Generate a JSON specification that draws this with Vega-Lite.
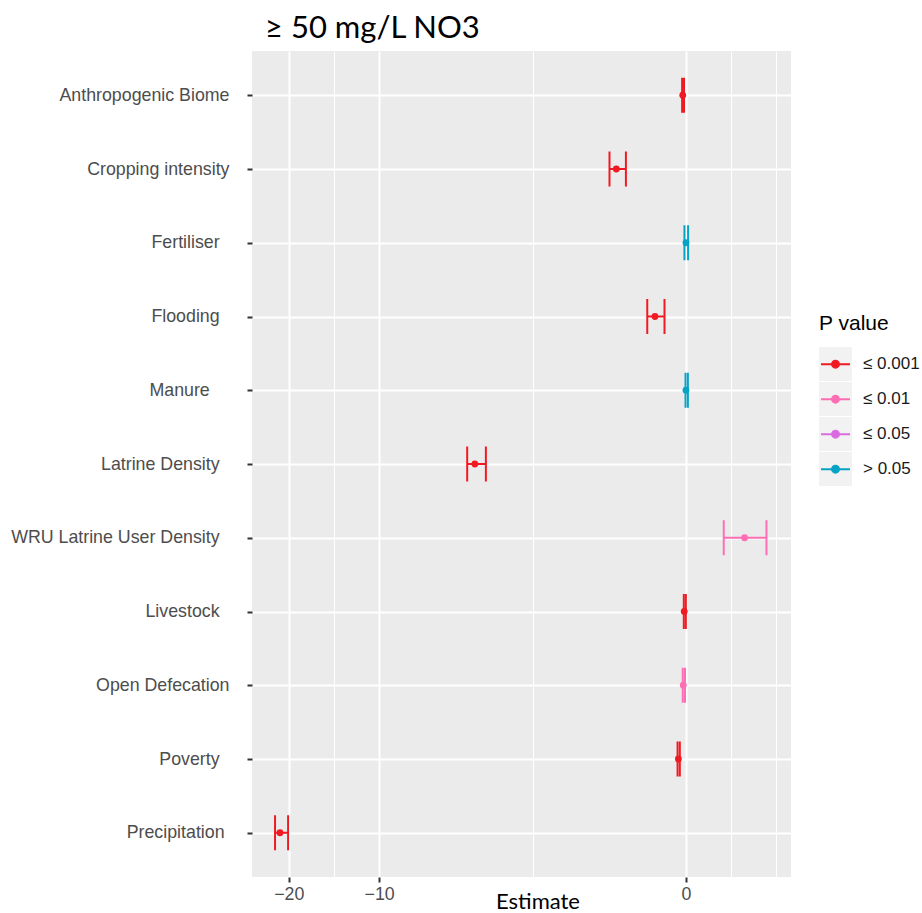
{
  "$schema": "https://vega.github.io/schema/vega-lite/v6.json",
  "width": 539,
  "height": 826,
  "autosize": "none",
  "padding": {"left": 252, "top": 51, "right": 131, "bottom": 36},
  "background": "white",
  "config": {
    "view": {"fill": "#EBEBEB", "stroke": null},
    "font": "Liberation Sans"
  },
  "title": {
    "text": "≥ 50 mg/L NO3",
    "font": "Lato",
    "fontSize": 31,
    "fontWeight": "normal",
    "color": "black",
    "anchor": "start",
    "frame": "group",
    "offset": 14,
    "baseline": "alphabetic",
    "dx": 13,
    "dy": 32
  },
  "data": {
    "values": [
      {"variable": "Anthropogenic Biome", "estimate": -0.03, "lower": -0.036, "upper": -0.018, "p": "≤ 0.001"},
      {"variable": "Cropping intensity", "estimate": -0.83, "lower": -0.935, "upper": -0.69, "p": "≤ 0.001"},
      {"variable": "Fertiliser", "estimate": 0.0, "lower": -0.014, "upper": 0.02, "p": "> 0.05"},
      {"variable": "Flooding", "estimate": -0.32, "lower": -0.411, "upper": -0.214, "p": "≤ 0.001"},
      {"variable": "Manure", "estimate": 0.0, "lower": -0.004, "upper": 0.018, "p": "> 0.05"},
      {"variable": "Latrine Density", "estimate": -4.47, "lower": -4.79, "upper": -4.04, "p": "≤ 0.001"},
      {"variable": "WRU Latrine User Density", "estimate": 0.67, "lower": 0.40, "upper": 1.0, "p": "≤ 0.01"},
      {"variable": "Livestock", "estimate": -0.016, "lower": -0.02, "upper": -0.001, "p": "≤ 0.001"},
      {"variable": "Open Defecation", "estimate": -0.025, "lower": -0.03, "upper": -0.009, "p": "≤ 0.01"},
      {"variable": "Poverty", "estimate": -0.072, "lower": -0.08, "upper": -0.058, "p": "≤ 0.001"},
      {"variable": "Precipitation", "estimate": -21.35, "lower": -22.15, "upper": -20.1, "p": "≤ 0.001"}
    ]
  },
  "encoding": {
    "y": {
      "field": "variable",
      "type": "nominal",
      "title": null,
      "scale": {
        "type": "point",
        "padding": 0.6,
        "domain": ["Anthropogenic Biome", "Cropping intensity", "Fertiliser", "Flooding", "Manure", "Latrine Density", "WRU Latrine User Density", "Livestock", "Open Defecation", "Poverty", "Precipitation"]
      },
      "axis": {
        "labelFont": "Liberation Sans",
        "labelFontSize": 17.8,
        "labelColor": "#4D4D4D",
        "labelPadding": 18,
        "labelLimit": 300,
        "labelExpr": "datum.label + (datum.label == 'Manure' ? '\u00a0\u00a0\u00a0\u00a0\u200b' : datum.label == 'Precipitation' ? '\u00a0\u200b' : (datum.label == 'Anthropogenic Biome' || datum.label == 'Cropping intensity' || datum.label == 'Open Defecation') ? '' : '\u00a0\u00a0\u200b')",
        "tickColor": "#333333",
        "tickSize": 5,
        "tickWidth": 2,
        "domain": false,
        "grid": true,
        "gridColor": "white",
        "gridWidth": 2
      }
    },
    "color": {
      "field": "p",
      "type": "nominal",
      "title": "P value",
      "scale": {
        "domain": ["≤ 0.001", "≤ 0.01", "≤ 0.05", "> 0.05"],
        "range": ["#F01A22", "#FF6EB4", "#DA6BE0", "#06A3C7"]
      },
      "legend": {
        "orient": "none",
        "legendX": 567,
        "legendY": 262,
        "zindex": 2,
        "padding": 0,
        "titleFont": "Liberation Sans",
        "titleFontSize": 21,
        "titleFontWeight": "normal",
        "titleColor": "black",
        "titlePadding": 13,
        "labelFont": "Liberation Sans",
        "labelFontSize": 17,
        "labelColor": "#1A1A1A",
        "symbolType": "M-1,0H1M0.24,0A0.24,0.24,0,1,1,-0.24,0A0.24,0.24,0,1,1,0.24,0Z",
        "symbolSize": 841,
        "symbolStrokeWidth": 2,
        "clipHeight": 34.3,
        "rowPadding": 0,
        "encode": {
          "symbols": {
            "update": {
              "fill": {"scale": "color", "field": "value"},
              "stroke": {"scale": "color", "field": "value"},
              "strokeWidth": {"value": 2},
              "opacity": {"value": 1},
              "x": {"value": 16.5}
            }
          },
          "labels": {
            "update": {
              "x": {"value": 44}
            }
          }
        }
      }
    }
  },
  "layer": [
    {
      "mark": {"type": "rule", "strokeWidth": 2},
      "encoding": {
        "x": {
          "field": "lower",
          "type": "quantitative",
          "title": "Estimate",
          "scale": {"type": "symlog", "constant": 1.32, "domain": [-26.26, 1.435], "nice": false, "zero": false},
          "axis": {
            "values": [-20, -14.21, -10, -2.546, 0, 0.4914, 1.1656],
            "format": "d",
            "labelExpr": "indexof([-20, -10, 0], datum.value) >= 0 ? datum.label : ''",
            "labelFont": "Liberation Sans",
            "labelFontSize": 17.8,
            "labelColor": "#4D4D4D",
            "labelPadding": 3,
            "tickColor": "#333333",
            "tickSize": 5,
            "tickWidth": 2,
            "tickOpacity": {"condition": {"test": "indexof([-20, -10, 0], datum.value) >= 0", "value": 1}, "value": 0},
            "domain": false,
            "grid": true,
            "gridColor": "white",
            "gridWidth": {"condition": {"test": "indexof([-20, -10, 0], datum.value) >= 0", "value": 2}, "value": 1},
            "title": "Estimate",
            "titleFont": "Lato",
            "titleFontSize": 22,
            "titleFontWeight": "normal",
            "titleColor": "black",
            "titleX": 285.5,
            "titleY": 31,
            "titleAlign": "center",
            "titleBaseline": "alphabetic"
          }
        },
        "x2": {"field": "upper"}
      }
    },
    {
      "mark": {"type": "tick", "size": 35, "thickness": 2, "opacity": 1},
      "encoding": {"x": {"field": "lower", "type": "quantitative", "title": "Estimate"}}
    },
    {
      "mark": {"type": "tick", "size": 35, "thickness": 2, "opacity": 1},
      "encoding": {"x": {"field": "upper", "type": "quantitative", "title": "Estimate"}}
    },
    {
      "mark": {"type": "point", "filled": true, "size": 46},
      "encoding": {
        "x": {"field": "estimate", "type": "quantitative", "title": "Estimate"},
        "opacity": {
          "field": "p",
          "type": "ordinal",
          "title": "P value",
          "scale": {"domain": ["> 0.05", "≤ 0.05", "≤ 0.01", "≤ 0.001"], "range": [1, 1, 1, 1]},
          "legend": {
            "orient": "none",
            "legendX": 567,
            "legendY": 262,
            "zindex": 1,
            "padding": 0,
            "titleFont": "Liberation Sans",
            "titleFontSize": 21,
            "titleFontWeight": "normal",
            "titleOpacity": 0,
            "titlePadding": 13,
            "labelExpr": "''",
            "labelFontSize": 17,
            "symbolType": "M-1,-1.0394H1V1.0394H-1Z",
            "symbolSize": 1089,
            "symbolFillColor": "#F2F2F2",
            "symbolStrokeColor": "#F2F2F2",
            "symbolOpacity": 1,
            "symbolStrokeWidth": 0,
            "clipHeight": 34.3,
            "rowPadding": 0,
            "encode": {
              "symbols": {
                "update": {
                  "x": {"value": 16.5}
                }
              }
            }
          }
        }
      }
    }
  ]
}
